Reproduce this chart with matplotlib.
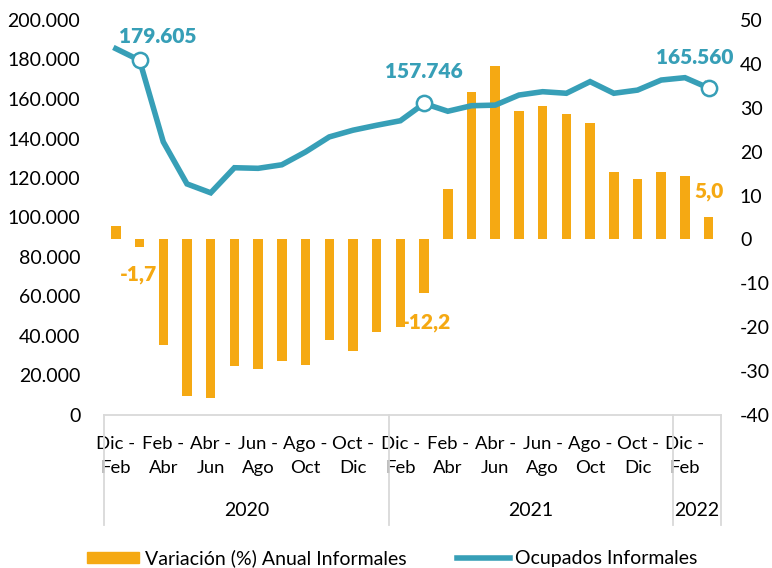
import matplotlib
matplotlib.use("Agg")
import matplotlib.pyplot as plt
from matplotlib.ticker import FuncFormatter, MultipleLocator
from matplotlib.lines import Line2D
from matplotlib.patches import Patch
import matplotlib.transforms as mtransforms

plt.rcParams['font.family'] = ['Lato', 'DejaVu Sans']
plt.rcParams['axes.unicode_minus'] = False

# trimestres moviles
categorias = [
    "Dic - Feb", "Ene - Mar", "Feb - Abr", "Mar - May", "Abr - Jun", "May - Jul",
    "Jun - Ago", "Jul - Sep", "Ago - Oct", "Sep - Nov", "Oct - Dic", "Nov - Ene",
    "Dic - Feb", "Ene - Mar", "Feb - Abr", "Mar - May", "Abr - Jun", "May - Jul",
    "Jun - Ago", "Jul - Sep", "Ago - Oct", "Sep - Nov", "Oct - Dic", "Nov - Ene",
    "Dic - Feb", "Ene - Mar",
]
anios = ["2020", "2021", "2022"]
anios_n = [12, 12, 2]

ocupados = [185500, 179605, 138300, 117000, 112500, 125200, 124900, 126700, 133200,
            140800, 144200, 146700, 149000, 157746, 153800, 156600, 156900, 162000,
            163700, 162900, 168800, 162900, 164500, 169600, 170800, 165560]
variacion = [3.1, -1.7, -24.1, -35.7, -36.1, -28.9, -29.5, -27.6, -28.7, -22.8,
             -25.4, -21.1, -20.0, -12.2, 11.4, 33.6, 39.5, 29.2, 30.5, 28.6,
             26.6, 15.3, 13.7, 15.3, 14.4, 5.0]

# puntos destacados (indices)
destacados = [1, 13, 25]

NARANJA = "#F5A913"
TEAL = "#379FB7"
GRIS = "#D9D9D9"
FS = 14

fig = plt.figure(figsize=(7.72, 5.68), dpi=100)
ax = fig.add_axes([104 / 772, 1 - 415 / 568, (720.5 - 104) / 772, (415 - 20) / 568])
ax2 = ax.twinx()

x = list(range(len(categorias)))

# barras (eje derecho)
ax2.bar(x, variacion, width=0.4, color=NARANJA, zorder=2)
ax2.set_ylim(-40, 50)
ax2.yaxis.set_major_locator(MultipleLocator(10))

# linea (eje izquierdo, encima)
ax.set_zorder(ax2.get_zorder() + 1)
ax.patch.set_visible(False)
ax.plot(x, ocupados, color=TEAL, lw=4, solid_joinstyle="miter", zorder=3)
ax.plot([x[i] for i in destacados], [ocupados[i] for i in destacados], "o",
        ms=11, mfc="white", mec=TEAL, mew=1.8, zorder=4)
ax.set_ylim(0, 200000)
ax.yaxis.set_major_locator(MultipleLocator(20000))
ax.yaxis.set_major_formatter(FuncFormatter(lambda v, p: f"{int(v):,}".replace(",", ".")))
ax.set_xlim(-0.5, len(x) - 0.5)

for a in (ax, ax2):
    for s in a.spines.values():
        s.set_visible(False)
ax.spines['bottom'].set_visible(True)
ax.spines['bottom'].set_color(GRIS)
ax.spines['bottom'].set_linewidth(1.3)

ax.tick_params(axis='y', length=0, pad=17, labelsize=FS, colors="black")
ax2.tick_params(axis='y', length=0, pad=14, labelsize=FS, colors="black")

# etiquetas de categoria (una de cada dos)
ax.set_xticks(x[::2])
ax.set_xticklabels([c.replace(" - ", " -\n") for c in categorias[::2]],
                   fontsize=13.3, linespacing=1.6)
ax.tick_params(axis='x', length=0, pad=15)

# agrupacion por anio
trans = mtransforms.blended_transform_factory(ax.transData, ax.transAxes)
bajo = -(525 - 415) / 395
inicio = -0.5
bordes = [inicio]
for anio, n in zip(anios, anios_n):
    fin = inicio + n
    ax.text((inicio + fin) / 2, -(510 - 415) / 395, anio, transform=trans,
            ha="center", va="center", fontsize=FS)
    bordes.append(fin)
    inicio = fin
for b in bordes:
    ax.add_line(Line2D([b, b], [0, bajo], transform=trans, color=GRIS, lw=1.3, clip_on=False))

# etiquetas de datos
PESO = "heavy"
ax.annotate("179.605", (1, ocupados[1]), xytext=(13, 17), textcoords="offset points",
            ha="center", va="center", fontsize=15, fontweight=PESO, color=TEAL)
ax.annotate("157.746", (13, ocupados[13]), xytext=(0, 23), textcoords="offset points",
            ha="center", va="center", fontsize=15, fontweight=PESO, color=TEAL)
ax.annotate("165.560", (25, ocupados[25]), xytext=(-10, 22), textcoords="offset points",
            ha="center", va="center", fontsize=15, fontweight=PESO, color=TEAL,
            arrowprops=dict(arrowstyle="-", color="#A6A6A6", lw=1.2, shrinkA=9, shrinkB=2))

ax2.annotate("-1,7", (1, variacion[1]), xytext=(-1, -20), textcoords="offset points",
             ha="center", va="center", fontsize=15, fontweight=PESO, color=NARANJA)
ax2.annotate("-12,2", (13, variacion[13]), xytext=(2, -21), textcoords="offset points",
             ha="center", va="center", fontsize=15, fontweight=PESO, color=NARANJA)
ax2.annotate("5,0", (25, variacion[25]), xytext=(0, 19), textcoords="offset points",
             ha="center", va="center", fontsize=15, fontweight=PESO, color=NARANJA)

# leyenda
handles = [Patch(color=NARANJA), Line2D([0], [0], color=TEAL, lw=4)]
fig.legend(handles, ["Variación (%) Anual Informales", "Ocupados Informales"],
           loc="center", bbox_to_anchor=(0.508, 1 - 558 / 568), ncol=2, frameon=False,
           fontsize=FS, handlelength=2.7, handleheight=0.5, handletextpad=0.3,
           columnspacing=2.6)

fig.savefig("out.png", dpi=100)
